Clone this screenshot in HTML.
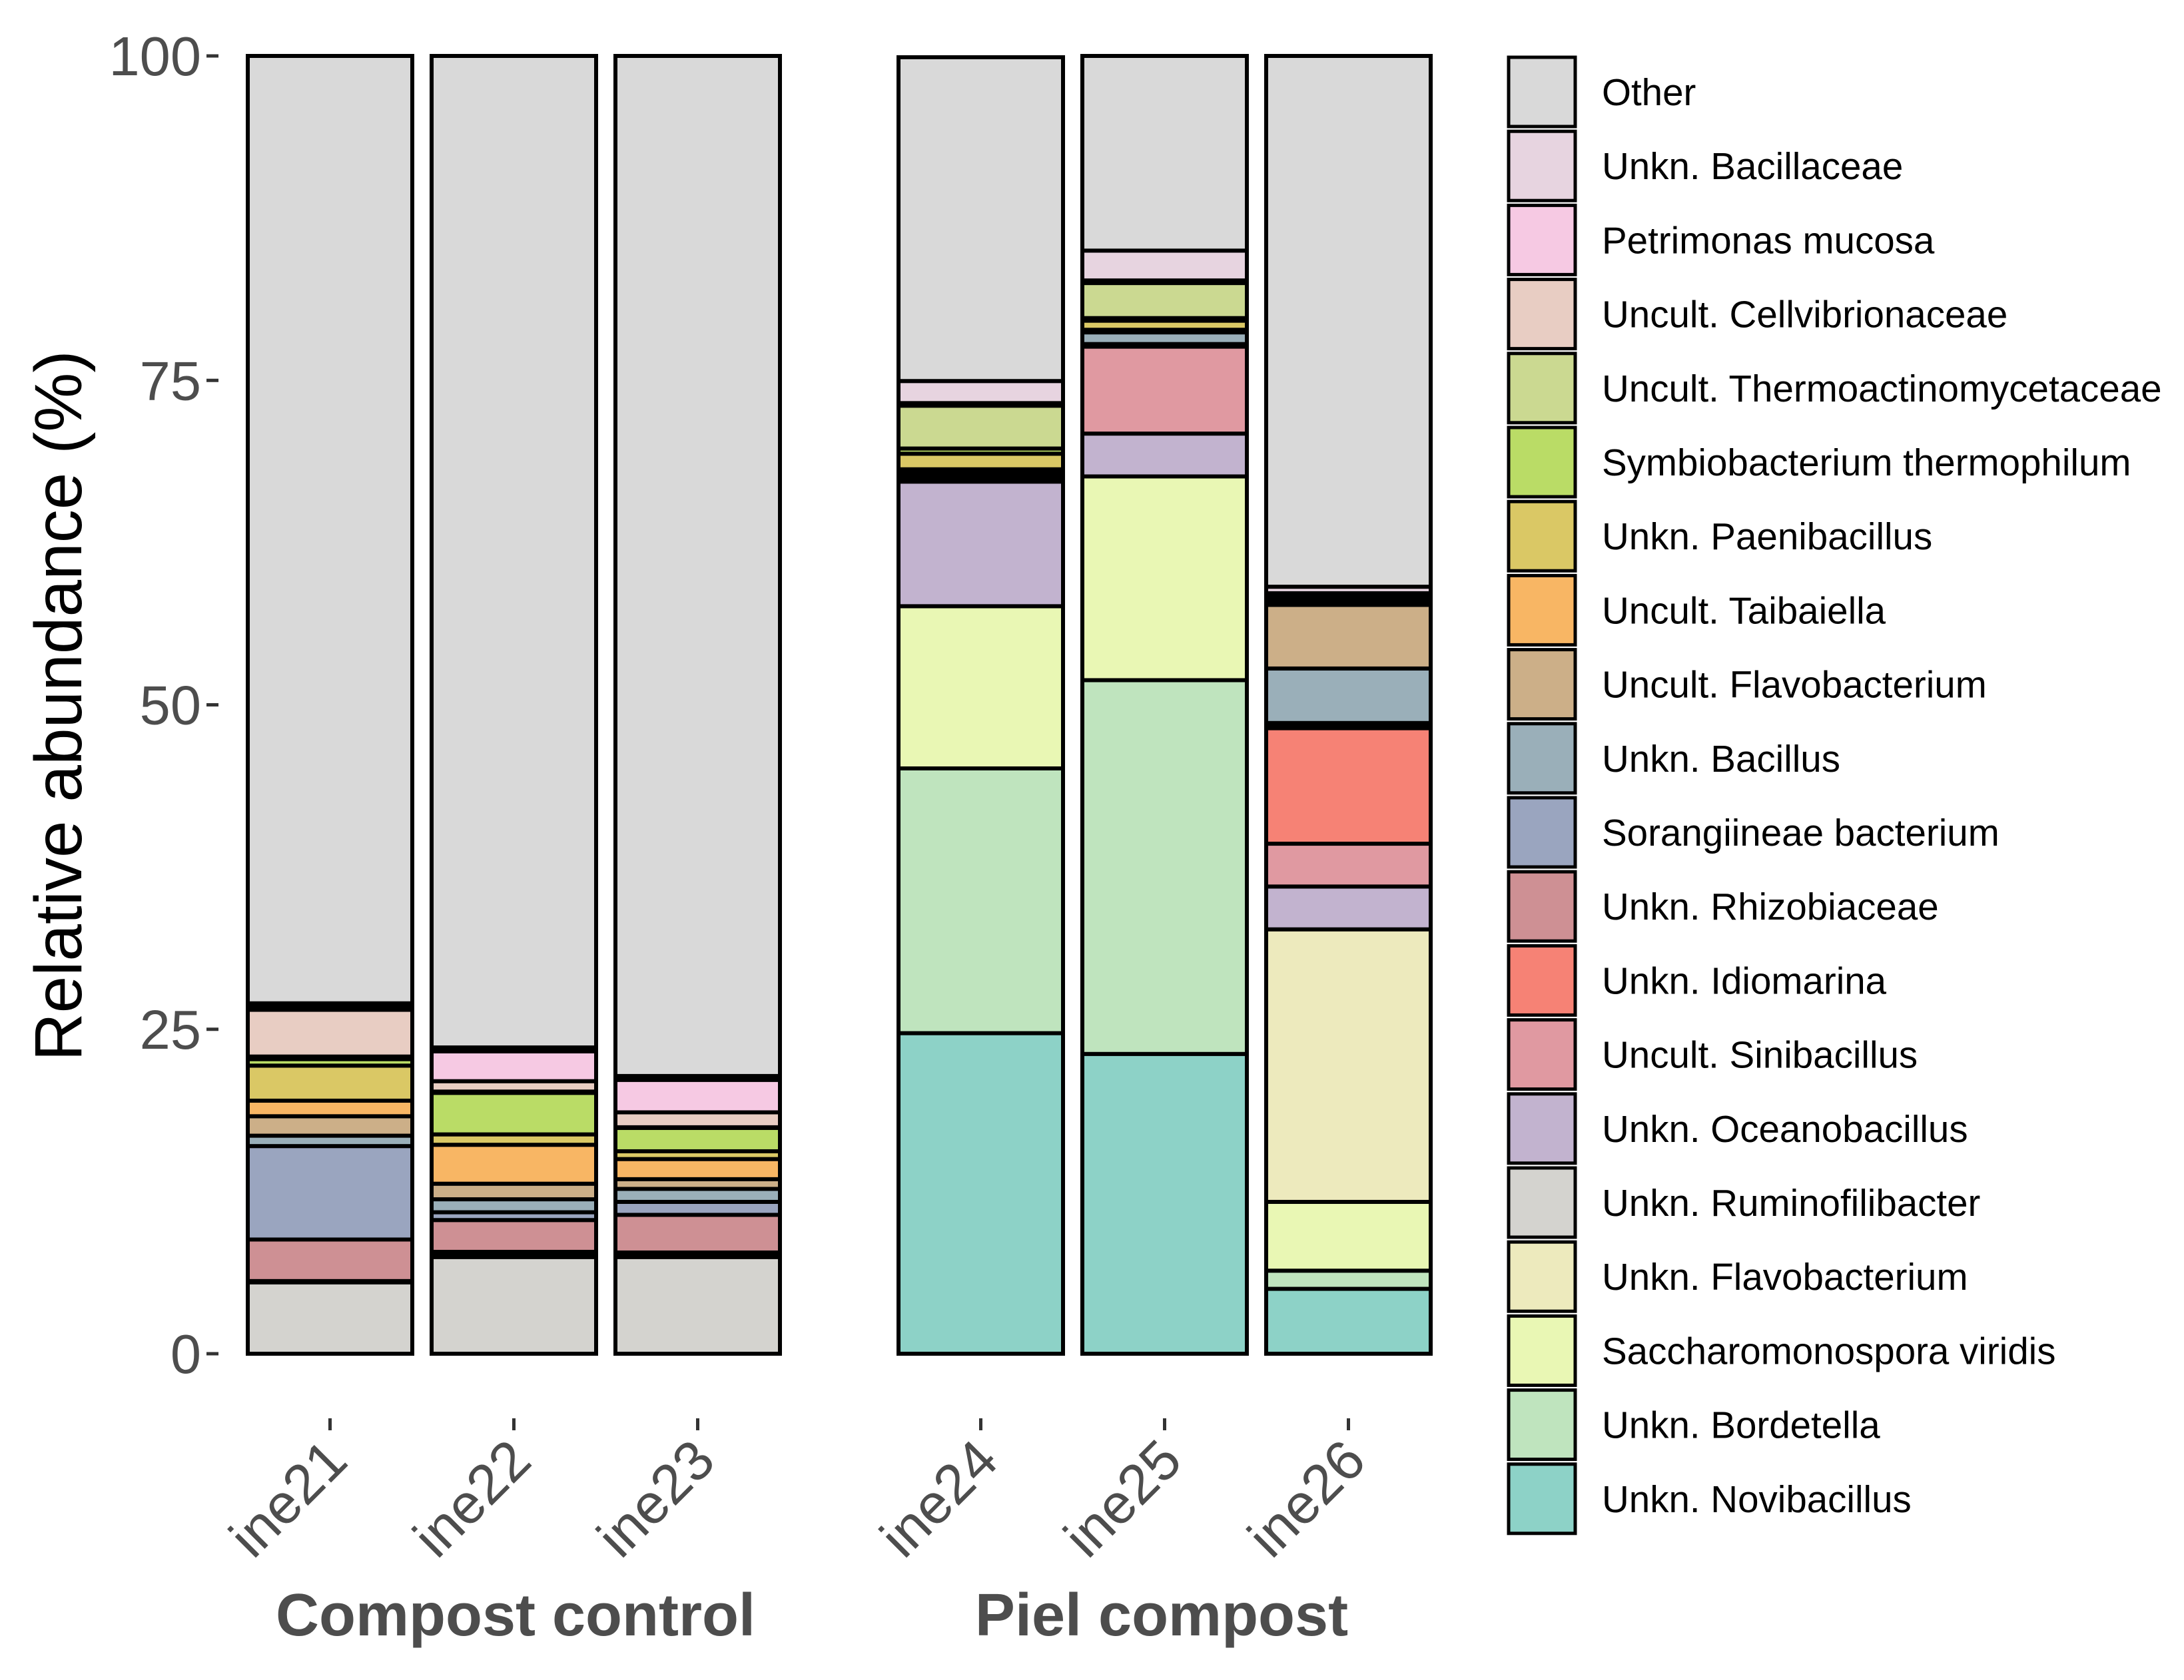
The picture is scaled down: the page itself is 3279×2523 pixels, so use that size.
<!DOCTYPE html>
<html><head><meta charset="utf-8"><style>
html,body{margin:0;padding:0;background:#fff}
svg{display:block}
text{font-family:"Liberation Sans",sans-serif}
</style></head><body>
<svg id="chart" xmlns="http://www.w3.org/2000/svg" width="3279" height="2523" viewBox="0 0 3279 2523">
<g id="bars"></g>
<g id="yaxis"></g>
<g id="xaxis"></g>
<text x="0" y="0" transform="translate(122,1060) rotate(-90)" text-anchor="middle" font-size="100" fill="#000">Relative abundance (%)</text>
<text x="774" y="2456" text-anchor="middle" font-size="90" font-weight="bold" fill="#4d4d4d">Compost control</text>
<text x="1744" y="2456" text-anchor="middle" font-size="90" font-weight="bold" fill="#4d4d4d">Piel compost</text>
<g id="legend"></g>
</svg>
<script>
// bottom-up stacking order
const series = ["Unkn. Novibacillus","Unkn. Bordetella","Saccharomonospora viridis","Unkn. Flavobacterium","Unkn. Ruminofilibacter","Unkn. Oceanobacillus","Uncult. Sinibacillus","Unkn. Idiomarina","Unkn. Rhizobiaceae","Sorangiineae bacterium","Unkn. Bacillus","Uncult. Flavobacterium","Uncult. Taibaiella","Unkn. Paenibacillus","Symbiobacterium thermophilum","Uncult. Thermoactinomycetaceae","Uncult. Cellvibrionaceae","Petrimonas mucosa","Unkn. Bacillaceae","Other"];
const colors = ["#8dd2c7","#bfe4be","#e9f7b4","#edeabd","#d4d3cf","#c2b3cf","#e099a1","#f68275","#ce9094","#9aa5bf","#9aafb9","#ccaf88","#f8b664","#dac865","#badc66","#cbd991","#e8cdc3","#f6c9e3","#e7d4e0","#d9d9d9"];
const samples = ["ine21","ine22","ine23","ine24","ine25","ine26"];
const groups = [0,0,0,1,1,1];
const yTicks = [0,25,50,75,100];
const ine21 = [0,0,0,0,5.5,0,0,0.1,3.2,7.2,0.8,1.5,1.2,2.7,0.5,0.2,3.6,0.3,0.2,73.0];
const ine22 = [0,0,0,0,7.45,0.15,0.15,0.1,2.45,0.6,1.0,1.2,3.0,0.8,3.2,0.1,0.8,2.3,0.3,76.4];
const ine23 = [0,0,0,0,7.45,0.15,0.1,0.1,2.9,1.0,1.0,0.75,1.55,0.6,1.8,0.05,1.15,2.5,0.3,78.6];
const ine24 = [24.7,20.4,12.5,0,0,9.6,0.1,0.1,0.15,0.1,0.15,0.15,0.2,1.2,0.4,3.3,0.1,0.1,1.7,24.95];
const ine25 = [23.1,28.8,15.7,0,0,3.3,6.7,0.05,0.05,0.1,0.9,0.1,0.1,0.7,0.2,2.7,0.1,0.1,2.3,15.0];
const ine26 = [5.0,1.4,5.3,21.0,0,3.3,3.3,8.9,0.2,0.2,4.2,4.9,0.15,0.15,0.15,0.15,0.15,0.15,0.5,40.9];
const values = [ine21,ine22,ine23,ine24,ine25,ine26];

const NS="http://www.w3.org/2000/svg";
const Y0=2033, Y100=84;
function yScale(v){return Y0-(Y0-Y100)*v/100;}
const barW=247, step=276, gap=149;
function xScale(i){return 372+i*step+groups[i]*gap;}
function mk(tag,attrs,parent){const e=document.createElementNS(NS,tag);for(const k in attrs)e.setAttribute(k,attrs[k]);parent.appendChild(e);return e;}

const gb=document.getElementById('bars');
values.forEach((vals,i)=>{
  const x=xScale(i);
  let cum=0;
  vals.forEach((v,j)=>{
    if(v<=0)return;
    const y1=yScale(cum+v), y0=yScale(cum);
    const r=mk('rect',{x:x,y:y1,width:barW,height:Math.max(0.5,y0-y1),fill:colors[j],stroke:'#000','stroke-width':6},gb);
    
    
    cum+=v;
  });
});

const gy=document.getElementById('yaxis');
yTicks.forEach(t=>{
  const y=yScale(t);
  const l=mk('line',{x1:310,x2:328,y1:y,y2:y,stroke:'#333','stroke-width':5},gy);
  
  
  const tx=mk('text',{x:302,y:y+29,'text-anchor':'end','font-size':83,fill:'#4d4d4d'},gy);
  
  
  tx.textContent=t;
});

const gx=document.getElementById('xaxis');
samples.forEach((s,i)=>{
  const cx=xScale(i)+barW/2;
  const l=mk('line',{x1:cx,x2:cx,y1:2130,y2:2148,stroke:'#333','stroke-width':5},gx);
  
  
  const tx=mk('text',{x:0,y:0,'text-anchor':'end','font-size':84,fill:'#4d4d4d',transform:'translate('+(cx+30)+',2198) rotate(-45)'},gx);
  
  
  tx.textContent=s;
});

const gl=document.getElementById('legend');
for(let k=0;k<series.length;k++){
  const j=series.length-1-k;
  const yc=138+k*111.2;
  const r=mk('rect',{x:2265,y:yc-52,width:100,height:104,fill:colors[j],stroke:'#000','stroke-width':5},gl);
  
  
  const tx=mk('text',{x:2405,y:yc+20,'font-size':56.5,fill:'#000'},gl);
  
  
  tx.textContent=series[j];
}
</script>
</body></html>
